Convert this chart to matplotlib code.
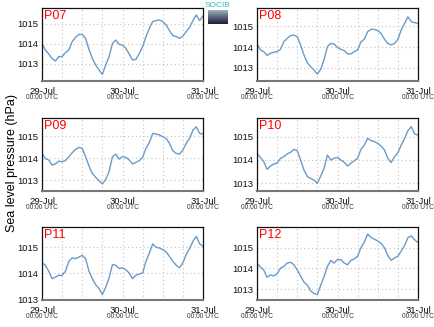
import numpy as np
import matplotlib
matplotlib.use('Agg')
import matplotlib.pyplot as plt
import matplotlib.dates as mdates
import matplotlib.transforms as mtrans

plt.rcParams['font.family'] = ['Liberation Sans', 'DejaVu Sans']

# hourly sea level pressure (hPa), 29-Jul 00:00 -> 31-Jul 00:00 UTC
hours = np.arange(49)
times = np.datetime64('2013-07-29T00:00') + hours.astype('timedelta64[h]')

p07 = [1014.03, 1013.70, 1013.50, 1013.28, 1013.15, 1013.37, 1013.37, 1013.57, 1013.70, 1014.12,
       1014.33, 1014.48, 1014.48, 1014.28, 1013.73, 1013.28, 1012.95, 1012.70, 1012.48, 1012.95,
       1013.37, 1014.03, 1014.20, 1013.98, 1013.95, 1013.78, 1013.50, 1013.20, 1013.23, 1013.53,
       1013.87, 1014.37, 1014.78, 1015.12, 1015.17, 1015.20, 1015.12, 1014.95, 1014.67, 1014.42,
       1014.37, 1014.28, 1014.40, 1014.62, 1014.83, 1015.17, 1015.45, 1015.17, 1015.40]
p08 = [1014.17, 1013.86, 1013.78, 1013.60, 1013.70, 1013.75, 1013.78, 1013.89, 1014.25, 1014.41,
       1014.54, 1014.57, 1014.49, 1014.10, 1013.62, 1013.25, 1013.06, 1012.90, 1012.71, 1012.94,
       1013.41, 1014.02, 1014.17, 1014.14, 1013.98, 1013.89, 1013.83, 1013.67, 1013.67, 1013.78,
       1013.86, 1014.25, 1014.37, 1014.73, 1014.84, 1014.84, 1014.78, 1014.65, 1014.37, 1014.17,
       1014.10, 1014.17, 1014.37, 1014.81, 1015.13, 1015.44, 1015.21, 1015.16, 1015.13]
p09 = [1014.21, 1013.98, 1013.91, 1013.68, 1013.73, 1013.86, 1013.83, 1013.88, 1014.06, 1014.24,
       1014.39, 1014.48, 1014.44, 1014.06, 1013.64, 1013.30, 1013.12, 1012.97, 1012.82, 1013.03,
       1013.38, 1014.06, 1014.18, 1013.95, 1014.06, 1014.03, 1013.91, 1013.73, 1013.80, 1013.88,
       1014.03, 1014.44, 1014.70, 1015.12, 1015.09, 1015.05, 1014.97, 1014.89, 1014.67, 1014.33,
       1014.21, 1014.18, 1014.36, 1014.67, 1014.89, 1015.27, 1015.42, 1015.12, 1015.09]
p10 = [1014.29, 1014.11, 1013.93, 1013.60, 1013.74, 1013.83, 1013.86, 1014.07, 1014.14, 1014.26,
       1014.33, 1014.46, 1014.40, 1014.00, 1013.57, 1013.29, 1013.21, 1013.14, 1013.00, 1013.31,
       1013.64, 1014.21, 1014.00, 1014.07, 1014.11, 1014.00, 1013.90, 1013.74, 1013.86, 1013.97,
       1014.07, 1014.46, 1014.64, 1014.93, 1014.83, 1014.79, 1014.71, 1014.60, 1014.43, 1014.07,
       1013.89, 1014.14, 1014.31, 1014.64, 1014.93, 1015.26, 1015.43, 1015.11, 1015.07]
p11 = [1014.40, 1014.31, 1014.08, 1013.79, 1013.85, 1013.92, 1013.92, 1014.08, 1014.46, 1014.59,
       1014.56, 1014.62, 1014.69, 1014.56, 1014.08, 1013.79, 1013.56, 1013.41, 1013.18, 1013.46,
       1013.82, 1014.33, 1014.31, 1014.18, 1014.21, 1014.13, 1014.01, 1013.79, 1013.92, 1013.97,
       1014.01, 1014.46, 1014.78, 1015.13, 1015.00, 1014.97, 1014.91, 1014.82, 1014.65, 1014.46,
       1014.31, 1014.21, 1014.40, 1014.72, 1014.95, 1015.23, 1015.42, 1015.13, 1015.04]
p12 = [1014.26, 1014.07, 1013.93, 1013.57, 1013.69, 1013.64, 1013.74, 1014.02, 1014.10, 1014.26,
       1014.30, 1014.18, 1013.93, 1013.64, 1013.34, 1013.20, 1012.92, 1012.79, 1012.75, 1013.20,
       1013.61, 1014.10, 1014.39, 1014.26, 1014.43, 1014.43, 1014.26, 1014.18, 1014.39, 1014.46,
       1014.59, 1015.00, 1015.28, 1015.66, 1015.49, 1015.41, 1015.33, 1015.21, 1015.00, 1014.62,
       1014.39, 1014.51, 1014.59, 1014.84, 1015.11, 1015.49, 1015.57, 1015.38, 1015.25]

stations = ['P07', 'P08', 'P09', 'P10', 'P11', 'P12']
series = [p07, p08, p09, p10, p11, p12]
ylims = [(1012.15, 1015.8), (1012.38, 1015.86), (1012.5, 1015.82),
         (1012.67, 1015.8), (1012.97, 1015.78), (1012.48, 1016.0)]
yticks = [1013, 1014, 1015]

W, H = 435, 327
fig = plt.figure(figsize=(W / 100, H / 100), dpi=100)

# axes boxes in pixels
lefts = [42, 257]
tops = [8, 118, 227]
aw, ah = 161, 73

t0 = np.datetime64('2013-07-29T00:00')
t1 = np.datetime64('2013-07-31T00:00')
days = [t0, np.datetime64('2013-07-30T00:00'), t1]

for i, (name, vals) in enumerate(zip(stations, series)):
    row, col = divmod(i, 2)
    l, t = lefts[col], tops[row]
    ax = fig.add_axes([l / W, 1 - (t + ah) / H, aw / W, ah / H])
    ax.plot(times, vals, color='#6b9bc6', lw=1.0)
    ax.set_xlim(t0, t1)
    ax.set_ylim(*ylims[i])
    ax.set_yticks(yticks)
    ax.xaxis.set_major_locator(mdates.DayLocator())
    ax.xaxis.set_major_formatter(mdates.DateFormatter('%d-%b'))
    ax.xaxis.set_minor_locator(mdates.HourLocator(byhour=[6, 12, 18]))
    ax.grid(True, which='both', axis='x', color='#c4c4c4', ls=(0, (1, 2.5)), lw=0.8)
    ax.grid(True, which='major', axis='y', color='#c4c4c4', ls=(0, (1, 2.5)), lw=0.8)
    ax.tick_params(axis='both', which='both', length=0, labelsize=6.8, colors='#111111')
    ax.tick_params(axis='x', pad=4)
    ax.tick_params(axis='y', pad=3)
    for s in ax.spines.values():
        s.set_color('#111111')
        s.set_linewidth(0.9)
    ax.spines['bottom'].set_color('#777777')
    ax.spines['bottom'].set_linewidth(1.5)
    ax.text(0.015, 0.97, name, transform=ax.transAxes, color='red',
            fontsize=9, ha='left', va='top')
    tr = mtrans.blended_transform_factory(ax.transData, ax.transAxes)
    for d in days:
        ax.text(mdates.date2num(d), -0.23, '00:00 UTC', transform=tr,
                fontsize=4.8, color='#333333', ha='center', va='center')

fig.text(12 / W, 1 - 163 / H, 'Sea level pressure (hPa)', rotation=90,
         fontsize=9, ha='center', va='center')

# small SOCIB logo at the top
lax = fig.add_axes([208 / W, 1 - 24 / H, 20 / W, 14 / H])
grad = np.linspace(0, 1, 20).reshape(-1, 1)
lax.imshow(grad, cmap='bone_r', aspect='auto', vmin=-0.6, vmax=1.3)
lax.axis('off')
fig.text(218 / W, 1 - 5.5 / H, 'SOCIB', color='#3ab5cf', fontsize=6,
         ha='center', va='center')

fig.savefig('out.png', dpi=100)
